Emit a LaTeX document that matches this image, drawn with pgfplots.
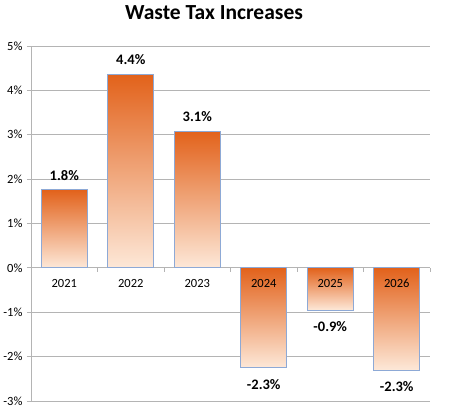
\documentclass[border=0pt]{standalone}
\usepackage{pgfplots}
\pgfplotsset{compat=1.18}
\usepackage{fontspec}
\setmainfont{Carlito}
\definecolor{topc}{RGB}{226,98,27}
\definecolor{midc}{RGB}{246,172,118}
\definecolor{botc}{RGB}{253,232,216}
\definecolor{edgec}{RGB}{141,169,214}
\definecolor{gridc}{RGB}{180,180,180}
\pgfplotsset{
  posbar/.style={ybar, bar width=46pt, bar shift=0pt, draw=edgec, line width=0.8pt,
    top color=topc, middle color=midc, bottom color=botc,
    nodes near coords, point meta=explicit symbolic,
    every node near coord/.style={anchor=south, inner sep=0pt, yshift=9pt, font=\bfseries\fontsize{14.5}{16}\selectfont, text=black}},
  negbar/.style={ybar, bar width=46pt, bar shift=0pt, draw=edgec, line width=0.8pt,
    top color=topc, middle color=midc, bottom color=botc,
    nodes near coords, point meta=explicit symbolic,
    every node near coord/.style={anchor=north, inner sep=0pt, yshift=-11pt, font=\bfseries\fontsize{14.5}{16}\selectfont, text=black}},
}
\begin{document}
\begin{tikzpicture}
\begin{axis}[
  scale only axis,
  width=399pt, height=355pt,
  xmin=-0.5, xmax=5.5,
  ymin=-3, ymax=5,
  axis x line*=middle,
  axis y line*=left,
  axis line style={gridc, line width=0.8pt, -},
  xtick={-0.5,0.5,1.5,2.5,3.5,4.5,5.5},
  xticklabels={},
  x tick style={gridc, line width=0.8pt},
  ytick={-3,-2,-1,0,1,2,3,4,5},
  yticklabels={-3\%,-2\%,-1\%,0\%,1\%,2\%,3\%,4\%,5\%},
  y tick style={gridc, line width=0.8pt},
  major tick length=4pt,
  tick align=outside,
  ymajorgrids,
  major grid style={gridc, line width=0.8pt},
  yticklabel style={font=\fontsize{12.5}{14}\selectfont, xshift=-1pt},
  clip=false,
]
\addplot[posbar] coordinates {(0,1.76)[1.8\%]};
\addplot[posbar] coordinates {(1,4.36)[4.4\%]};
\addplot[posbar] coordinates {(2,3.08)[3.1\%]};
\addplot[negbar] coordinates {(3,-2.25)[-2.3\%]};
\addplot[negbar] coordinates {(4,-0.95)[-0.9\%]};
\addplot[negbar] coordinates {(5,-2.3)[-2.3\%]};
\addplot[draw=none, mark=none, nodes near coords, point meta=explicit symbolic,
  every node near coord/.style={anchor=north, inner sep=0pt, yshift=-11pt, font=\fontsize{12.5}{14}\selectfont, text=black}]
  coordinates {(0,0)[2021] (1,0)[2022] (2,0)[2023] (3,0)[2024] (4,0)[2025] (5,0)[2026]};
\coordinate (sw) at (rel axis cs:0,0);
\coordinate (ne) at (rel axis cs:1,1);
\node[anchor=base, font=\bfseries\fontsize{21.5}{24}\selectfont] at ([shift={(183pt,26pt)}]rel axis cs:0,1) {Waste Tax Increases};
\end{axis}
\pgfresetboundingbox
\path ([shift={(-31pt,-19pt)}]sw) rectangle ([shift={(26pt,46pt)}]ne);
\end{tikzpicture}
\end{document}
